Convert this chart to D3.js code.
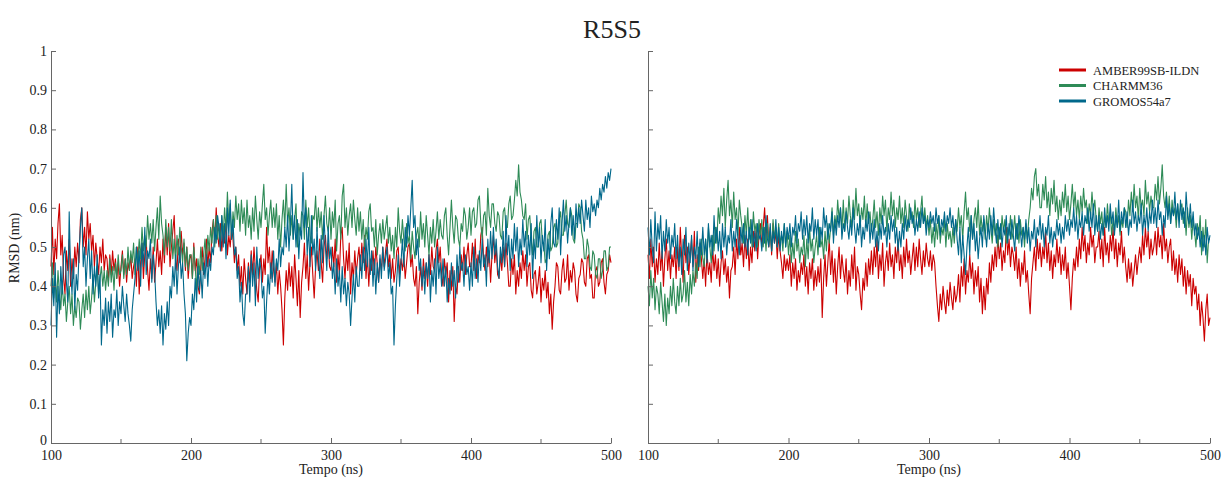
<!DOCTYPE html>
<html>
<head>
<meta charset="utf-8">
<script src="https://cdn.jsdelivr.net/npm/d3@7"></script>
<style>
    body { margin: 0; background: #fff; }
    text { font-family: "Liberation Serif", "Times New Roman", serif; fill: #222; }
    .axis path, .axis line { stroke: #666; }
</style>
</head>
<body>
<div id="chart"></div>
<script>
var titulo = 'R5S5';
var series = ['AMBER99SB-ILDN', 'CHARMM36', 'GROMOS54a7'];
var colores = ['#cc0000', '#2e8b57', '#00688b'];
var yTicks = [0, 0.1, 0.2, 0.3, 0.4, 0.5, 0.6, 0.7, 0.8, 0.9, 1];
var xTicks = [100, 200, 300, 400, 500];
var xMinor = [150, 250, 350, 450];

// tiempo en ns, un dato por ns (100..500)
var tempo = d3.range(100, 501, 1);

var amberIzq = [
    .45,.55,.43,.52,.47,.56,.61,.48,.53,.42,.38,.49,.44,.52,.40,.47,.42,.50,.45,.51,
    .46,.57,.60,.50,.55,.48,.59,.52,.56,.49,.53,.45,.51,.47,.43,.50,.46,.52,.44,.48,
    .47,.41,.48,.43,.49,.44,.47,.42,.46,.40,.45,.49,.43,.47,.41,.46,.44,.48,.42,.45,
    .47,.40,.50,.38,.46,.51,.42,.48,.52,.44,.39,.47,.42,.50,.41,.46,.52,.45,.49,.43,
    .52,.46,.55,.48,.56,.45,.50,.54,.58,.47,.44,.52,.46,.54,.48,.51,.44,.50,.42,.47,
    .48,.42,.51,.44,.47,.40,.38,.45,.50,.43,.47,.52,.45,.50,.46,.54,.57,.51,.60,.53,
    .50,.56,.49,.54,.51,.57,.48,.53,.50,.55,.52,.46,.50,.44,.48,.40,.45,.38,.47,.42,
    .38,.46,.41,.49,.43,.50,.44,.39,.36,.45,.48,.41,.47,.43,.55,.46,.50,.42,.49,.44,
    .41,.46,.38,.44,.40,.34,.25,.37,.44,.39,.46,.40,.45,.37,.48,.42,.35,.44,.32,.41,
    .45,.51,.42,.48,.39,.46,.50,.43,.37,.45,.49,.44,.52,.46,.41,.50,.53,.47,.51,.45,
    .44,.50,.45,.52,.41,.48,.43,.53,.55,.47,.42,.49,.44,.51,.38,.46,.42,.49,.43,.47,
    .50,.44,.51,.46,.53,.42,.48,.40,.47,.44,.49,.43,.50,.46,.41,.47,.44,.50,.45,.49,
    .52,.45,.48,.42,.47,.41,.44,.49,.50,.43,.47,.44,.48,.42,.46,.50,.51,.45,.48,.42,
    .40,.45,.33,.41,.45,.39,.47,.42,.46,.40,.48,.43,.50,.45,.44,.49,.52,.46,.50,.43,
    .40,.47,.43,.46,.36,.44,.39,.45,.31,.40,.38,.45,.41,.48,.44,.50,.43,.48,.51,.45,
    .45,.51,.44,.52,.42,.48,.46,.53,.55,.47,.44,.50,.45,.49,.41,.48,.53,.46,.50,.43,
    .42,.48,.44,.50,.45,.51,.46,.40,.40,.47,.43,.48,.38,.44,.40,.46,.42,.49,.44,.48,
    .40,.45,.46,.39,.37,.43,.44,.38,.41,.45,.36,.42,.39,.44,.37,.41,.33,.38,.29,.36,
    .40,.46,.45,.39,.38,.44,.47,.41,.42,.48,.39,.44,.41,.46,.44,.38,.36,.42,.43,.47,
    .46,.41,.40,.47,.48,.42,.43,.37,.37,.44,.45,.40,.41,.46,.47,.41,.38,.43,.44,.48,
    .46
];
var charmmIzq = [
    .40,.46,.37,.43,.36,.44,.38,.34,.41,.35,.38,.31,.36,.40,.33,.38,.30,.35,.32,.37,
    .36,.29,.34,.38,.32,.39,.34,.40,.33,.37,.43,.36,.41,.45,.38,.42,.45,.40,.44,.39,
    .44,.40,.47,.41,.45,.39,.46,.42,.48,.43,.44,.48,.42,.47,.43,.50,.44,.49,.46,.51,
    .43,.50,.46,.52,.47,.55,.49,.53,.50,.58,.52,.56,.51,.57,.49,.55,.60,.52,.63,.56,
    .53,.48,.57,.50,.55,.49,.57,.47,.52,.46,.53,.48,.55,.50,.46,.52,.45,.50,.44,.48,
    .48,.42,.50,.45,.39,.47,.43,.50,.44,.48,.52,.46,.53,.49,.55,.51,.57,.50,.58,.52,
    .56,.51,.58,.53,.60,.54,.64,.56,.61,.52,.59,.55,.63,.57,.61,.54,.62,.56,.60,.53,
    .62,.55,.58,.52,.60,.54,.63,.57,.52,.59,.55,.61,.66,.57,.60,.53,.58,.62,.55,.60,
    .55,.61,.52,.58,.50,.57,.62,.55,.66,.56,.60,.53,.58,.52,.57,.61,.50,.56,.53,.59,
    .58,.52,.62,.55,.60,.53,.51,.58,.57,.63,.54,.60,.55,.59,.52,.58,.63,.56,.54,.60,
    .52,.59,.55,.62,.49,.56,.58,.52,.63,.66,.55,.60,.53,.58,.61,.55,.62,.57,.53,.60,
    .54,.59,.52,.57,.50,.55,.52,.59,.61,.54,.55,.50,.57,.48,.53,.56,.51,.57,.52,.55,
    .58,.51,.55,.49,.53,.47,.55,.50,.60,.54,.51,.57,.52,.49,.56,.51,.53,.47,.54,.50,
    .47,.53,.55,.50,.59,.52,.56,.50,.58,.53,.48,.55,.51,.57,.50,.54,.59,.52,.57,.53,
    .52,.58,.60,.53,.48,.55,.62,.55,.51,.58,.57,.52,.50,.56,.54,.60,.58,.52,.55,.60,
    .53,.59,.60,.55,.56,.62,.63,.56,.52,.58,.59,.53,.65,.58,.55,.61,.61,.56,.54,.59,
    .58,.53,.52,.59,.60,.55,.55,.61,.63,.57,.58,.62,.67,.63,.71,.64,.62,.58,.57,.61,
    .52,.57,.58,.52,.48,.54,.55,.50,.50,.56,.57,.51,.51,.46,.47,.53,.54,.49,.50,.55,
    .56,.50,.51,.57,.59,.53,.53,.58,.62,.56,.55,.60,.58,.52,.51,.56,.56,.61,.60,.54,
    .52,.47,.47,.52,.50,.45,.44,.49,.48,.43,.42,.47,.47,.42,.44,.49,.49,.44,.45,.50,
    .50
];
var gromosIzq = [
    .30,.42,.35,.46,.27,.40,.33,.45,.38,.48,.50,.41,.36,.59,.44,.38,.47,.34,.43,.39,
    .48,.55,.60,.45,.50,.40,.47,.52,.42,.49,.38,.45,.40,.48,.37,.43,.25,.34,.30,.37,
    .28,.36,.31,.38,.27,.34,.32,.39,.30,.36,.33,.40,.35,.31,.38,.33,.30,.26,.34,.38,
    .42,.50,.44,.49,.40,.51,.45,.55,.43,.49,.47,.52,.41,.48,.44,.36,.30,.34,.28,.35,
    .25,.33,.29,.36,.30,.40,.37,.45,.40,.48,.38,.45,.50,.42,.46,.38,.33,.21,.28,.32,
    .30,.38,.34,.42,.36,.45,.39,.44,.37,.46,.42,.48,.40,.47,.44,.50,.48,.55,.51,.58,
    .55,.49,.58,.50,.56,.47,.60,.53,.62,.52,.57,.48,.50,.42,.45,.36,.41,.33,.30,.38,
    .38,.45,.36,.48,.40,.46,.35,.50,.42,.47,.44,.37,.40,.28,.36,.43,.38,.46,.41,.49,
    .40,.47,.44,.52,.45,.50,.48,.55,.50,.58,.49,.56,.66,.52,.58,.50,.57,.47,.55,.52,
    .69,.55,.60,.48,.55,.45,.58,.48,.52,.44,.55,.47,.42,.53,.46,.58,.50,.44,.55,.47,
    .50,.42,.46,.38,.47,.40,.44,.36,.45,.38,.42,.35,.41,.38,.30,.37,.43,.36,.45,.40,
    .40,.48,.42,.50,.44,.52,.45,.55,.43,.49,.40,.47,.38,.46,.41,.48,.42,.50,.44,.47,
    .50,.42,.46,.38,.40,.25,.35,.42,.48,.40,.46,.52,.45,.55,.50,.58,.53,.60,.67,.55,
    .58,.48,.52,.44,.47,.40,.45,.38,.46,.42,.48,.36,.44,.40,.47,.38,.50,.42,.46,.40,
    .47,.40,.45,.36,.42,.38,.46,.40,.44,.37,.48,.41,.50,.44,.46,.40,.48,.43,.45,.39,
    .46,.40,.50,.42,.47,.41,.49,.44,.52,.45,.48,.40,.52,.46,.54,.47,.55,.48,.52,.45,
    .42,.50,.46,.54,.45,.58,.48,.53,.44,.52,.47,.56,.49,.55,.45,.52,.48,.57,.50,.54,
    .45,.53,.48,.56,.42,.52,.47,.58,.50,.55,.46,.53,.49,.57,.44,.52,.47,.56,.60,.51,
    .50,.57,.52,.60,.48,.56,.62,.54,.58,.51,.56,.60,.53,.58,.52,.61,.55,.60,.56,.62,
    .58,.54,.62,.57,.60,.55,.63,.59,.61,.58,.62,.60,.65,.62,.66,.64,.68,.65,.69,.67,
    .70
];

var amberDer = [
    .48,.42,.52,.45,.50,.41,.47,.43,.51,.44,.49,.40,.47,.52,.44,.49,.42,.48,.45,.50,
    .42,.50,.44,.55,.47,.41,.53,.46,.50,.43,.48,.52,.45,.54,.41,.48,.44,.51,.47,.42,
    .47,.40,.49,.43,.46,.41,.50,.44,.48,.42,.47,.40,.46,.49,.43,.47,.41,.45,.37,.44,
    .45,.50,.43,.52,.47,.55,.48,.51,.45,.53,.47,.52,.44,.50,.46,.54,.49,.55,.47,.53,
    .56,.50,.55,.60,.52,.58,.50,.55,.48,.56,.51,.54,.47,.53,.49,.46,.42,.48,.44,.47,
    .44,.48,.40,.46,.42,.47,.39,.44,.41,.46,.43,.48,.40,.45,.38,.46,.42,.47,.39,.44,
    .40,.45,.41,.47,.32,.42,.48,.40,.46,.52,.43,.49,.41,.47,.38,.45,.50,.42,.48,.44,
    .41,.47,.38,.44,.40,.48,.42,.50,.39,.45,.43,.38,.34,.42,.39,.46,.40,.47,.43,.49,
    .43,.50,.45,.52,.42,.48,.44,.51,.40,.46,.49,.44,.51,.45,.48,.42,.50,.46,.52,.44,
    .48,.42,.50,.45,.52,.46,.49,.43,.47,.51,.44,.50,.45,.52,.47,.43,.49,.45,.51,.47,
    .45,.49,.44,.48,.46,.40,.35,.31,.38,.34,.40,.36,.33,.39,.35,.41,.37,.34,.40,.36,
    .38,.43,.36,.45,.40,.47,.38,.44,.41,.48,.42,.46,.38,.44,.40,.45,.36,.42,.33,.40,
    .34,.42,.38,.46,.41,.48,.44,.50,.45,.53,.47,.51,.44,.49,.46,.55,.48,.52,.45,.50,
    .48,.44,.50,.42,.47,.40,.46,.43,.49,.41,.44,.38,.33,.42,.46,.50,.44,.52,.47,.51,
    .45,.50,.47,.54,.46,.51,.44,.49,.42,.48,.45,.52,.46,.50,.43,.48,.44,.50,.42,.46,
    .40,.34,.42,.47,.44,.50,.45,.52,.47,.55,.49,.53,.46,.51,.48,.55,.50,.53,.46,.50,
    .50,.54,.47,.52,.45,.55,.48,.51,.46,.53,.49,.55,.47,.52,.45,.51,.48,.54,.46,.50,
    .45,.41,.47,.42,.46,.40,.44,.48,.43,.47,.50,.46,.53,.48,.55,.50,.54,.47,.52,.48,
    .50,.54,.48,.55,.50,.53,.47,.56,.49,.52,.46,.50,.52,.44,.49,.43,.47,.41,.48,.43,
    .47,.40,.45,.38,.44,.40,.43,.35,.42,.38,.40,.34,.38,.30,.36,.32,.26,.34,.38,.30,
    .32
];
var charmmDer = [
    .40,.35,.44,.37,.42,.34,.40,.38,.33,.41,.36,.31,.38,.30,.37,.33,.40,.35,.42,.36,
    .33,.40,.35,.42,.36,.38,.44,.36,.41,.35,.43,.38,.44,.40,.46,.42,.50,.45,.52,.47,
    .45,.52,.47,.55,.50,.46,.53,.49,.55,.51,.60,.56,.63,.58,.65,.55,.62,.67,.58,.62,
    .55,.64,.57,.60,.53,.62,.58,.55,.51,.58,.53,.60,.52,.57,.50,.59,.54,.56,.50,.57,
    .52,.57,.50,.55,.49,.56,.51,.54,.49,.57,.52,.55,.50,.56,.51,.53,.49,.56,.50,.54,
    .48,.53,.46,.51,.47,.54,.49,.52,.46,.50,.48,.53,.45,.52,.47,.55,.49,.52,.46,.50,
    .53,.48,.55,.50,.52,.47,.54,.49,.56,.51,.55,.60,.53,.58,.55,.62,.57,.60,.54,.62,
    .54,.60,.56,.63,.58,.55,.62,.57,.65,.58,.61,.55,.60,.57,.63,.55,.61,.56,.59,.54,
    .57,.62,.55,.59,.53,.60,.56,.63,.58,.62,.54,.60,.57,.64,.58,.62,.55,.60,.57,.63,
    .56,.60,.55,.62,.58,.54,.61,.57,.59,.55,.62,.57,.60,.55,.59,.63,.56,.60,.55,.58,
    .53,.57,.51,.55,.50,.56,.52,.58,.51,.55,.53,.57,.50,.56,.52,.54,.50,.55,.51,.57,
    .54,.60,.55,.58,.52,.59,.64,.57,.60,.54,.58,.52,.57,.60,.55,.62,.53,.58,.54,.57,
    .52,.58,.54,.60,.55,.51,.57,.53,.56,.50,.55,.52,.58,.54,.57,.51,.55,.53,.58,.52,
    .54,.58,.52,.56,.51,.57,.53,.55,.50,.56,.52,.57,.60,.65,.62,.68,.70,.63,.66,.60,
    .60,.66,.62,.68,.60,.64,.58,.65,.61,.67,.59,.63,.57,.62,.58,.64,.60,.66,.59,.63,
    .57,.61,.66,.60,.64,.58,.62,.57,.63,.59,.65,.60,.62,.56,.61,.58,.64,.59,.62,.57,
    .54,.60,.56,.59,.53,.58,.55,.61,.56,.59,.53,.57,.54,.60,.55,.58,.53,.57,.55,.60,
    .59,.55,.62,.58,.64,.59,.66,.60,.63,.57,.65,.60,.62,.58,.67,.61,.64,.59,.63,.60,
    .60,.66,.62,.68,.61,.65,.71,.63,.60,.64,.58,.63,.56,.62,.58,.60,.55,.61,.57,.60,
    .61,.56,.59,.53,.60,.55,.58,.52,.57,.54,.50,.56,.53,.58,.48,.55,.50,.57,.46,.52,
    .52
];
var gromosDer = [
    .55,.48,.57,.50,.46,.59,.49,.56,.52,.58,.47,.54,.49,.57,.51,.55,.47,.53,.50,.56,
    .47,.53,.45,.50,.43,.52,.48,.55,.44,.51,.46,.53,.44,.50,.47,.54,.45,.52,.48,.55,
    .48,.52,.46,.56,.50,.53,.48,.58,.51,.55,.49,.54,.47,.56,.50,.55,.48,.53,.51,.57,
    .49,.54,.50,.57,.52,.48,.55,.51,.56,.50,.54,.48,.55,.51,.57,.50,.54,.49,.56,.52,
    .53,.49,.55,.51,.58,.52,.50,.56,.49,.54,.51,.57,.50,.55,.49,.54,.51,.56,.50,.55,
    .52,.56,.50,.55,.53,.58,.51,.56,.54,.59,.52,.57,.53,.58,.51,.56,.54,.60,.52,.57,
    .53,.57,.50,.55,.52,.60,.55,.58,.52,.56,.54,.59,.51,.57,.53,.58,.55,.60,.52,.56,
    .54,.59,.55,.52,.57,.53,.60,.55,.51,.56,.53,.58,.50,.55,.52,.57,.54,.59,.51,.56,
    .52,.57,.50,.54,.49,.56,.52,.58,.53,.55,.50,.56,.52,.58,.54,.57,.51,.55,.49,.54,
    .50,.56,.52,.58,.54,.57,.55,.60,.56,.58,.53,.57,.54,.59,.55,.60,.56,.58,.53,.57,
    .55,.59,.56,.58,.54,.60,.56,.58,.53,.57,.55,.59,.54,.58,.56,.60,.55,.58,.53,.57,
    .52,.48,.55,.46,.53,.48,.43,.50,.55,.48,.58,.52,.56,.49,.54,.47,.52,.55,.50,.58,
    .54,.50,.56,.52,.58,.53,.60,.55,.51,.57,.52,.56,.50,.55,.53,.58,.51,.56,.52,.57,
    .53,.49,.56,.52,.58,.54,.50,.55,.52,.57,.51,.55,.49,.54,.52,.57,.50,.55,.53,.58,
    .52,.56,.50,.55,.53,.58,.51,.55,.50,.54,.52,.57,.53,.56,.51,.55,.52,.58,.54,.57,
    .53,.57,.55,.60,.54,.58,.52,.57,.55,.59,.53,.58,.56,.60,.54,.59,.55,.61,.53,.58,
    .54,.58,.52,.56,.53,.60,.55,.58,.54,.61,.56,.59,.53,.58,.55,.62,.54,.59,.56,.60,
    .55,.59,.53,.57,.55,.62,.56,.59,.54,.58,.56,.61,.53,.58,.55,.60,.54,.59,.56,.62,
    .56,.60,.55,.62,.57,.59,.53,.58,.55,.63,.57,.61,.56,.60,.58,.64,.57,.61,.55,.62,
    .57,.60,.55,.64,.58,.56,.61,.55,.59,.53,.56,.52,.55,.50,.54,.49,.53,.48,.55,.51,
    .53
];

var width = 1223, height = 478;
var fuente = '"Liberation Serif", "Times New Roman", Times, serif';

var svg = d3.select('#chart')
    .append('svg')
    .attr('width', width)
    .attr('height', height);

var y = d3.scaleLinear().domain([0, 1]).range([443, 51]);

function texto(sel, size) {
    sel.style('font-family', fuente)
        .style('font-size', size)
        .style('fill', '#222');
}

function panel(x0, x1, datos, conEtiquetas) {
    var x = d3.scaleLinear().domain([100, 500]).range([x0, x1]);
    var g = svg.append('g');

    var linea = d3.line()
        .defined(function (d, i) { return i < tempo.length; })
        .x(function (d, i) { return x(tempo[i]); })
        .y(function (d) { return y(d); });

    // rojo abajo, verde en medio, azul arriba
    datos.forEach(function (serie, k) {
        g.append('path')
            .datum(serie)
            .attr('fill', 'none')
            .attr('stroke', colores[k])
            .attr('stroke-width', 1.1)
            .attr('stroke-linejoin', 'round')
            .attr('d', linea);
    });

    var ejeY = d3.axisLeft(y)
        .tickValues(yTicks)
        .tickSizeInner(-5)
        .tickSizeOuter(0)
        .tickPadding(4)
        .tickFormat(conEtiquetas ? d3.format('') : '');
    var gy = g.append('g')
        .attr('class', 'axis')
        .attr('font-family', fuente)
        .attr('transform', 'translate(' + x0 + ',0)')
        .call(ejeY);
    texto(gy.selectAll('text'), '14px');
    // el 0 queda un poco mas arriba, como en el original
    gy.selectAll('text').filter(function (d) { return d === 0; })
        .attr('y', -3);

    var ejeX = d3.axisBottom(x)
        .tickValues(xTicks)
        .tickSizeInner(-5)
        .tickSizeOuter(0)
        .tickPadding(7)
        .tickFormat(d3.format('d'));
    var gx = g.append('g')
        .attr('class', 'axis')
        .attr('font-family', fuente)
        .attr('transform', 'translate(0,443)')
        .call(ejeX);
    texto(gx.selectAll('text'), '14px');

    gx.selectAll('.menor')
        .data(xMinor)
        .enter().append('line')
        .attr('class', 'menor')
        .attr('x1', function (d) { return x(d); })
        .attr('x2', function (d) { return x(d); })
        .attr('y1', 0)
        .attr('y2', -4);

    g.append('text')
        .attr('x', (x0 + x1) / 2)
        .attr('y', 474)
        .attr('text-anchor', 'middle')
        .text('Tempo (ns)')
        .call(texto, '14px');

    return x;
}

panel(51, 611, [amberIzq, charmmIzq, gromosIzq], true);
panel(648, 1210, [amberDer, charmmDer, gromosDer], false);

svg.append('text')
    .attr('transform', 'translate(19,248) rotate(-90)')
    .attr('text-anchor', 'middle')
    .text('RMSD (nm)')
    .call(texto, '14px');

svg.append('text')
    .attr('x', 612)
    .attr('y', 38)
    .attr('text-anchor', 'middle')
    .text(titulo)
    .call(texto, '26px');

var leyenda = svg.append('g').attr('transform', 'translate(1059,70)');
series.forEach(function (nombre, k) {
    leyenda.append('line')
        .attr('x1', 0).attr('x2', 27)
        .attr('y1', k * 15.5).attr('y2', k * 15.5)
        .attr('stroke', colores[k])
        .attr('stroke-width', 3);
    leyenda.append('text')
        .attr('x', 34)
        .attr('y', k * 15.5 + 4.5)
        .text(nombre)
        .call(texto, '12.5px');
});
</script>
</body>
</html>
